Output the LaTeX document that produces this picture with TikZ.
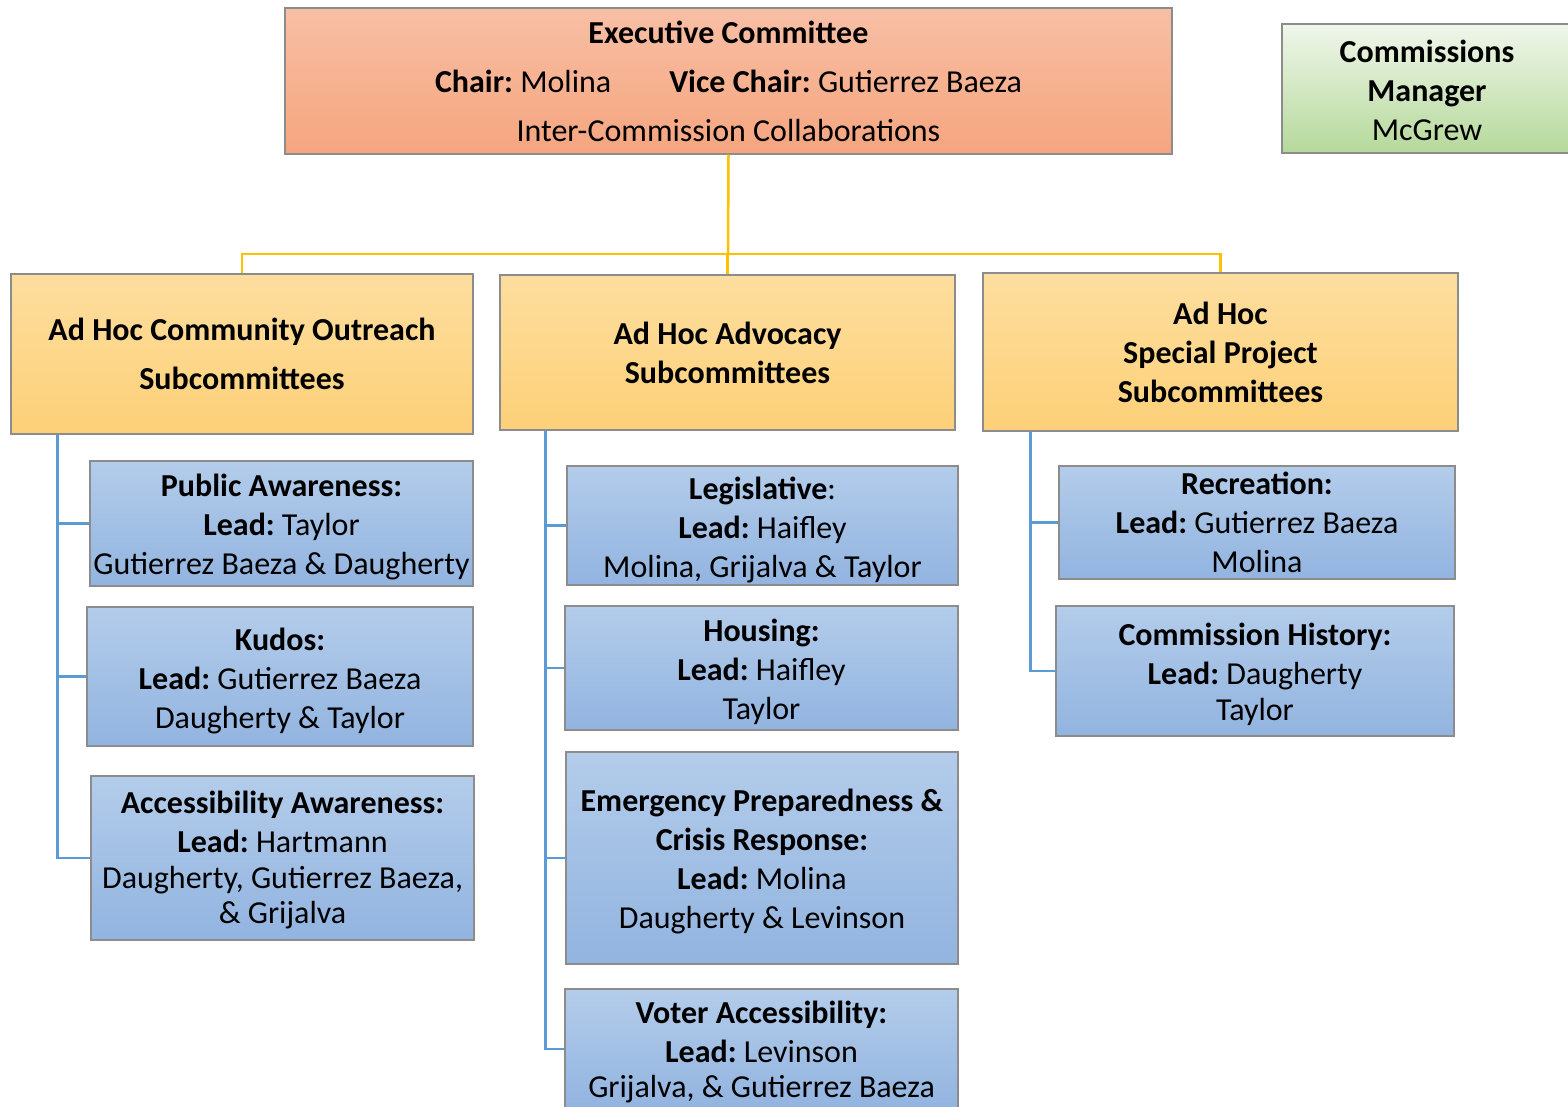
\documentclass[tikz,border=0pt]{standalone}
\usepackage{fontspec}
\setmainfont{Carlito}
\newcommand\dn[1]{\rule{0pt}{#1pt}}
\begin{document}
\frenchspacing
\begin{tikzpicture}[x=1pt,y=-1pt,
  box/.style={rectangle, draw=black!45, line width=1.2pt, inner sep=0pt, align=center,
    font=\fontsize{32}{39}\selectfont},
  wide/.style={font=\fontsize{32}{49}\selectfont},
  execbox/.style={box, wide, top color=exectop, bottom color=execbot},
  mgrbox/.style={box, top color=mgrtop, bottom color=mgrbot},
  subbox/.style={box, top color=orgtop, bottom color=orgbot},
  leafbox/.style={box, top color=bluetop, bottom color=bluebot},
  yline/.style={draw=linegold, line width=2.5pt},
  bline/.style={draw=lineblue, line width=2.5pt}
]
\definecolor{exectop}{HTML}{F8BFA5}
\definecolor{execbot}{HTML}{F5A57E}
\definecolor{mgrtop}{HTML}{F0F6EB}
\definecolor{mgrbot}{HTML}{B5D99A}
\definecolor{orgtop}{HTML}{FDDE9F}
\definecolor{orgbot}{HTML}{FDD078}
\definecolor{bluetop}{HTML}{B3CCEA}
\definecolor{bluebot}{HTML}{92B4E0}
\definecolor{linegold}{HTML}{FFC000}
\definecolor{lineblue}{HTML}{5B9BD5}

\useasboundingbox (0,0) rectangle (1568,1106);
\clip (0,0) rectangle (1568,1106);

% top level
\node[execbox, minimum width=887pt, minimum height=146pt] (exec) at (728.5,81)
  {\textbf{Executive Committee}\\
   \textbf{Chair:} Molina\hspace{58pt}\textbf{Vice Chair:} Gutierrez Baeza\\
   Inter-Commission Collaborations};
\node[mgrbox, minimum width=290pt, minimum height=129pt] (mgr) at (1427,88.5)
  {\dn{26}\textbf{Commissions}\\ \textbf{Manager}\\ McGrew};

% subcommittee groups
\node[subbox, wide, minimum width=462pt, minimum height=160pt] (ol) at (242,354)
  {\textbf{Ad Hoc Community Outreach}\\ \textbf{Subcommittees}};
\node[subbox, minimum width=455pt, minimum height=155pt] (om) at (727.5,352.5)
  {\dn{24}\textbf{Ad Hoc Advocacy}\\ \textbf{Subcommittees}};
\node[subbox, minimum width=475pt, minimum height=158pt] (orr) at (1220.5,352)
  {\dn{24}\textbf{Ad Hoc}\\ \textbf{Special Project}\\ \textbf{Subcommittees}};

% left column
\node[leafbox, minimum width=383pt, minimum height=125pt] (pa) at (281.5,523.5)
  {\dn{30}\textbf{Public Awareness:}\\ \textbf{Lead:} Taylor\\ Gutierrez Baeza \& Daugherty};
\node[leafbox, minimum width=386pt, minimum height=139pt] (kud) at (280,676.5)
  {\dn{32}\textbf{Kudos:}\\ \textbf{Lead:} Gutierrez Baeza\\ Daugherty \& Taylor};
\node[leafbox, minimum width=383pt, minimum height=164pt] (acc) at (282.5,858)
  {\dn{26}\textbf{Accessibility Awareness:}\\ \textbf{Lead:} Hartmann\\[-3pt]
   Daugherty, Gutierrez Baeza,\\[-4pt] \& Grijalva};

% middle column
\node[leafbox, minimum width=391pt, minimum height=119pt] (leg) at (762.5,525.5)
  {\dn{32}\textbf{Legislative}:\\ \textbf{Lead:} Haifley\\ Molina, Grijalva \& Taylor};
\node[leafbox, minimum width=393pt, minimum height=124pt] (hou) at (761.5,668)
  {\dn{30}\textbf{Housing:}\\ \textbf{Lead:} Haifley\\ Taylor};
\node[leafbox, minimum width=392pt, minimum height=212pt] (eme) at (762,858)
  {\dn{30}\textbf{Emergency Preparedness \&}\\ \textbf{Crisis Response:}\\ \textbf{Lead:} Molina\\ Daugherty \& Levinson};
\node[leafbox, minimum width=393pt, minimum height=120pt] (vot) at (761.5,1049)
  {\dn{28}\textbf{Voter Accessibility:}\\ \textbf{Lead:} Levinson\\[-4pt] Grijalva, \& Gutierrez Baeza};

% right column
\node[leafbox, minimum width=396pt, minimum height=113pt] (rec) at (1257,522.5)
  {\textbf{Recreation:}\\ \textbf{Lead:} Gutierrez Baeza\\ Molina};
\node[leafbox, minimum width=398pt, minimum height=130pt] (his) at (1255,671)
  {\dn{30}\textbf{Commission History:}\\ \textbf{Lead:} Daugherty\\[-3pt] Taylor};

% gold connectors
\coordinate (bus) at (728,254);
\draw[yline] (exec.south) -- (bus);
\draw[yline] (ol.north) |- (bus);
\draw[yline] (orr.north) |- (bus);
\draw[yline] (om.north) -- (om.north |- bus);

% blue connectors
\coordinate (lt) at ([xshift=47pt]ol.south west);
\coordinate (mt) at ([xshift=46pt]om.south west);
\coordinate (rt) at ([xshift=48pt]orr.south west);
\draw[bline] (lt) |- (pa.west);
\draw[bline] (lt) |- (kud.west);
\draw[bline] (lt) |- (acc.west);
\draw[bline] (mt) |- (leg.west);
\draw[bline] (mt) |- (hou.west);
\draw[bline] (mt) |- (eme.west);
\draw[bline] (mt) |- (vot.west);
\draw[bline] (rt) |- (rec.west);
\draw[bline] (rt) |- (his.west);
\end{tikzpicture}
\end{document}
